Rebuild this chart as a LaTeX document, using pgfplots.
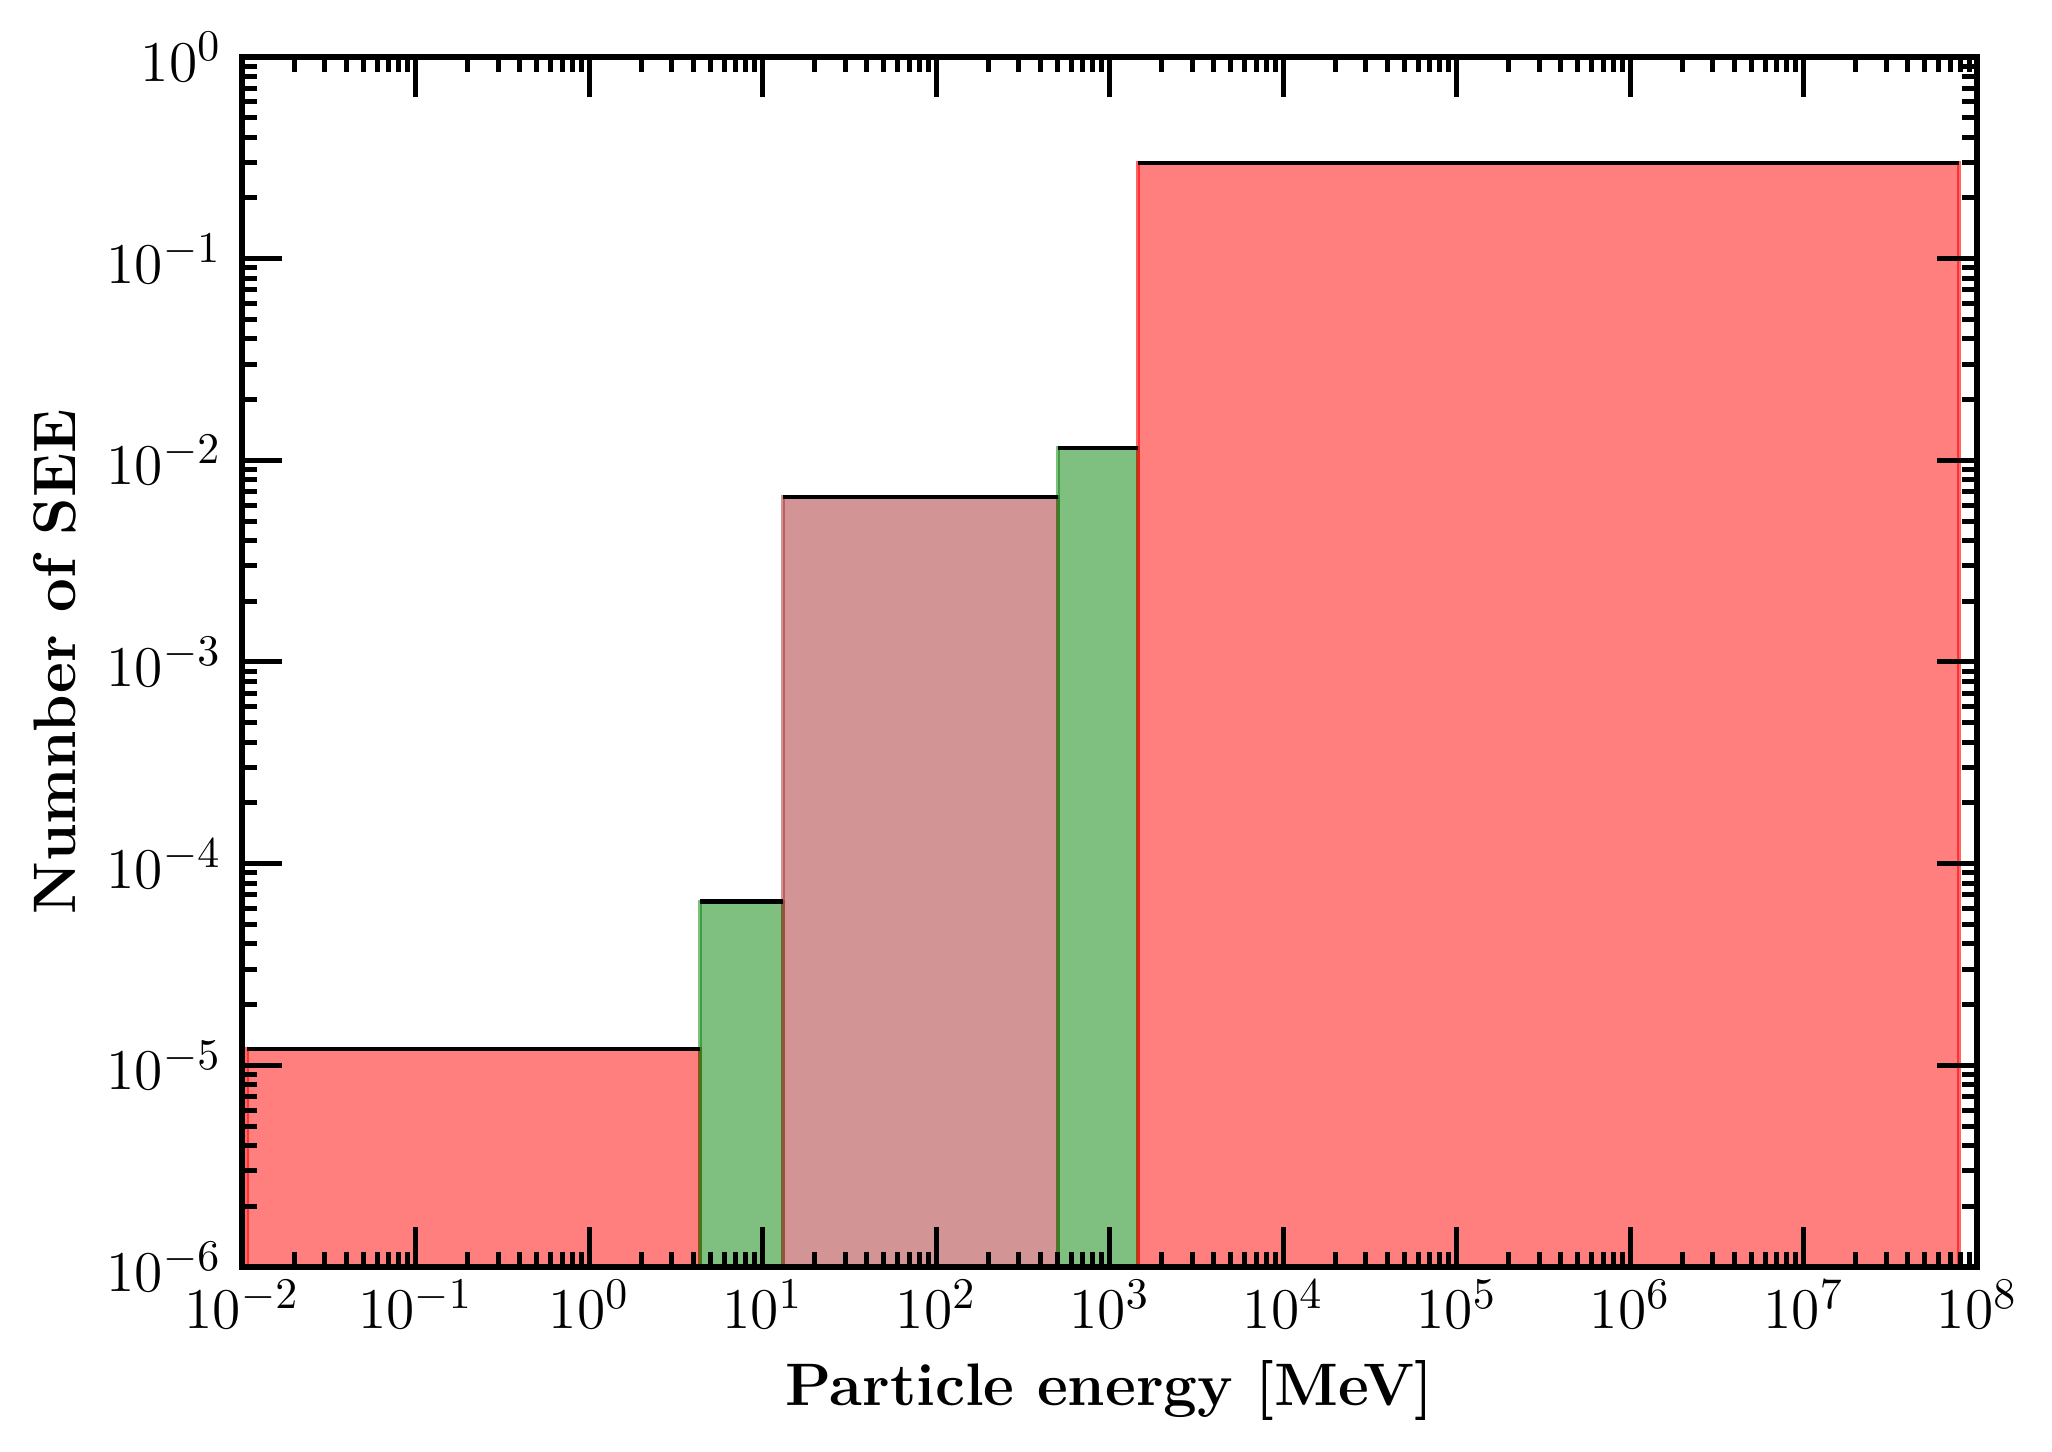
\documentclass[border=0pt]{standalone}
\usepackage{pgfplots}
\pgfplotsset{compat=1.18}
\definecolor{mplgreen}{RGB}{0,128,0}
\definecolor{mplbrown}{RGB}{165,42,42}
\begin{document}
\begin{tikzpicture}
\useasboundingbox (-60.5pt,-46.25pt) rectangle (452.5pt,316.75pt);
\begin{axis}[
  at={(0,0)}, anchor=south west,
  scale only axis, width=433.75pt, height=302.5pt,
  xmode=log, ymode=log,
  xmin=1e-2, xmax=1e8, ymin=1e-6, ymax=1,
  xtick={1e-2,1e-1,1,10,100,1e3,1e4,1e5,1e6,1e7,1e8},
  ytick={1e-6,1e-5,1e-4,1e-3,1e-2,1e-1,1},
  axis on top,
  axis line style={line width=1.5pt},
  tick align=inside, xtick pos=both, ytick pos=both,
  major tick length=10pt, minor tick length=3.75pt,
  every tick/.style={black, line width=1.25pt},
  tick label style={font=\fontsize{15.5}{18}\selectfont},
  xticklabel style={anchor=north, inner sep=0pt, yshift=-3pt},
  yticklabel style={anchor=east, inner sep=0pt, xshift=-5pt},
  xlabel={Particle energy [MeV]},
  ylabel={Numnber of SEE},
  every axis x label/.style={at={(axis description cs:0.5,-0.1017)}, anchor=center, font=\bfseries\fontsize{15}{18}\selectfont},
  every axis y label/.style={at={(axis description cs:-0.1078,0.5)}, rotate=90, anchor=center, font=\bfseries\fontsize{15}{18}\selectfont},
]
% bins: red, green, brown, green, red
\addplot [fill=red, fill opacity=0.5, draw=red, draw opacity=0.6, line width=0.9pt]
  coordinates {(0.0107,1e-6) (0.0107,1.205e-5) (4.36,1.205e-5) (4.36,1e-6)} -- cycle;
\addplot [fill=mplgreen, fill opacity=0.5, draw=mplgreen, draw opacity=0.5, line width=0.9pt]
  coordinates {(4.36,1e-6) (4.36,6.5e-5) (13.1,6.5e-5) (13.1,1e-6)} -- cycle;
\addplot [fill=mplbrown, fill opacity=0.5, draw=mplbrown, draw opacity=0.5, line width=0.9pt]
  coordinates {(13.1,1e-6) (13.1,6.58e-3) (505,6.58e-3) (505,1e-6)} -- cycle;
\addplot [fill=mplgreen, fill opacity=0.5, draw=mplgreen, draw opacity=0.5, line width=0.9pt]
  coordinates {(505,1e-6) (505,1.15e-2) (1459,1.15e-2) (1459,1e-6)} -- cycle;
\addplot [fill=red, fill opacity=0.5, draw=red, draw opacity=0.6, line width=0.9pt]
  coordinates {(1459,1e-6) (1459,0.298) (7.87e7,0.298) (7.87e7,1e-6)} -- cycle;
% black tops
\addplot [black, line width=1.1pt] coordinates {(0.0107,1.205e-5) (4.36,1.205e-5)};
\addplot [black, line width=1.1pt] coordinates {(4.36,6.5e-5) (13.1,6.5e-5)};
\addplot [black, line width=1.1pt] coordinates {(13.1,6.58e-3) (505,6.58e-3)};
\addplot [black, line width=1.1pt] coordinates {(505,1.15e-2) (1459,1.15e-2)};
\addplot [black, line width=1.1pt] coordinates {(1459,0.298) (7.87e7,0.298)};
\end{axis}
\end{tikzpicture}
\end{document}
